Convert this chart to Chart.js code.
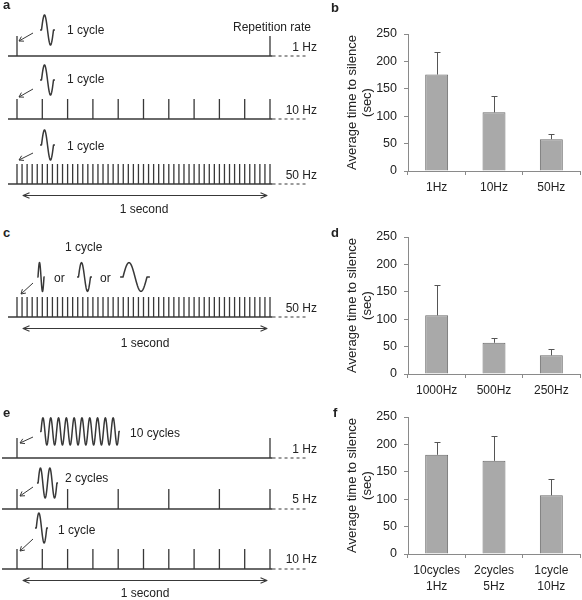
<!DOCTYPE html>
<html>
<head>
<meta charset="utf-8">
<script src="https://cdn.jsdelivr.net/npm/chart.js@4.4.1/dist/chart.umd.min.js"></script>
<style>
  body { margin: 0; background: #fff; }
  #fig { position: relative; width: 582px; height: 600px; overflow: hidden;
         font-family: 'Liberation Sans', Arial, sans-serif; color: #222; }
  #fig canvas { position: absolute; }
  .lbl { position: absolute; font-size: 12px; line-height: 14px; white-space: nowrap; z-index: 2; }
  .pl { font-size: 13px; line-height: 15px; font-weight: bold; }
</style>
</head>
<body>
<div id="fig"></div>
<script>
// ---- bar chart data (b, d, f) ----
const rateLabels = ['1Hz', '10Hz', '50Hz'];
const rateMeans = [176, 107, 58];
const rateErr = [41, 29, 9];

const freqLabels = ['1000Hz', '500Hz', '250Hz'];
const freqMeans = [107, 57, 34];
const freqErr = [56, 9, 11];

const cycleLabels = [['10cycles', '1Hz'], ['2cycles', '5Hz'], ['1cycle', '10Hz']];
const cycleMeans = [181, 170, 107];
const cycleErr = [24, 45, 29];

const yMax = 250, yStep = 50;

// ---- stimulus schematics (a, c, e) ----
const ratesA = [1, 10, 50];
const rateC = 50;
const carrierC = [1000, 500, 250];
const ratesE = [1, 5, 10];
const cyclesE = [10, 2, 1];

Chart.defaults.font.family = "'Liberation Sans', Arial, sans-serif";
Chart.defaults.color = '#222';

const fig = document.getElementById('fig');
const LINE = '#383838';
const AXIS = '#8a8a8a';

// schematic x scale: seconds, t=0 at 17px, 253px per second
const T0 = 17, PX_PER_SEC = 253, ROW_W = 330;
const sec = px => (px - T0) / PX_PER_SEC;

// row layout: baseline pixel, glyph placement in px / pulse-height units
const rows = [
  { base: 56,  start: 8, rate: ratesA[0], waves: [{ cx: 47.5, cy: 1.3,  n: 1, p: 12, a: 0.75 }], arrow: [33, 1.15, 19, 0.75] },
  { base: 119, start: 8, rate: ratesA[1], waves: [{ cx: 47.5, cy: 1.95, n: 1, p: 12, a: 0.75 }], arrow: [33, 1.5, 19, 1.1] },
  { base: 184, start: 8, rate: ratesA[2], waves: [{ cx: 47.5, cy: 1.95, n: 1, p: 12, a: 0.75 }], arrow: [33, 1.55, 19, 1.2], span: true },
  { base: 317, start: 8, rate: rateC, waves: carrierC.map((f, i) => ({ cx: [41, 84.5, 135][i], cy: 2.0, n: 1, p: 6000 / f, a: 0.72 })),
    arrow: [33, 1.7, 21, 1.15], span: true },
  { base: 458, start: 2, rate: ratesE[0], waves: [{ cx: 80,   cy: 1.33, n: cyclesE[0], p: 7.8,  a: 0.68 }], arrow: [33, 1.05, 20, 0.75] },
  { base: 509, start: 2, rate: ratesE[1], waves: [{ cx: 47.5, cy: 1.3,  n: cyclesE[1], p: 9.4,  a: 0.75 }], arrow: [33, 1.1, 20, 0.65] },
  { base: 569, start: 2, rate: ratesE[2], waves: [{ cx: 41.5, cy: 2.05, n: cyclesE[2], p: 10.5, a: 0.75 }], arrow: [33, 1.5, 20, 0.9], span: true }
];

function head(ctx, x1, y1, x2, y2, len, spread) {
  const ang = Math.atan2(y2 - y1, x2 - x1);
  ctx.moveTo(x2 - len * Math.cos(ang - spread), y2 - len * Math.sin(ang - spread));
  ctx.lineTo(x2, y2);
  ctx.lineTo(x2 - len * Math.cos(ang + spread), y2 - len * Math.sin(ang + spread));
}

const glyphs = {
  id: 'glyphs',
  afterDatasetsDraw(chart, args, r) {
    const { ctx, scales: { x, y } } = chart;
    const X = px => x.getPixelForValue(sec(px));
    ctx.save();
    ctx.strokeStyle = LINE;
    ctx.lineJoin = 'round';
    // wavelets
    ctx.lineWidth = 1.5;
    r.waves.forEach(w => {
      const L = w.n * w.p, s = w.cx - L / 2, tail = 0.12 * w.p;
      ctx.beginPath();
      ctx.moveTo(X(s - tail), y.getPixelForValue(w.cy));
      const steps = 40 * w.n;
      for (let i = 0; i <= steps; i++) {
        const u = i / steps * w.n;
        ctx.lineTo(X(s + u * w.p), y.getPixelForValue(w.cy + w.a * Math.sin(2 * Math.PI * u)));
      }
      ctx.lineTo(X(s + L + tail), y.getPixelForValue(w.cy));
      ctx.stroke();
    });
    // pointer arrow to first pulse
    ctx.lineWidth = 1;
    const [ax1, ay1, ax2, ay2] = r.arrow;
    const p1 = [X(ax1), y.getPixelForValue(ay1)], p2 = [X(ax2), y.getPixelForValue(ay2)];
    ctx.beginPath();
    ctx.moveTo(p1[0], p1[1]); ctx.lineTo(p2[0], p2[1]);
    head(ctx, p1[0], p1[1], p2[0], p2[1], 5, 0.55);
    ctx.stroke();
    // "1 second" double arrow
    if (r.span) {
      const yy = Math.round(y.getPixelForValue(-0.55)) + 0.5;
      const xa = x.getPixelForValue(0.024), xb = x.getPixelForValue(0.988);
      ctx.lineWidth = 1.1;
      ctx.beginPath();
      ctx.moveTo(xa, yy); ctx.lineTo(xb, yy);
      head(ctx, xb, yy, xa, yy, 7, 0.4);
      head(ctx, xa, yy, xb, yy, 7, 0.4);
      ctx.stroke();
    }
    ctx.restore();
  }
};

rows.forEach(r => {
  const cv = document.createElement('canvas');
  cv.width = ROW_W; cv.height = 80;
  cv.style.left = '0px';
  cv.style.top = (r.base - 60) + 'px';
  fig.appendChild(cv);
  const pulses = [];
  for (let k = 0; k <= r.rate; k++) {
    const tk = k / r.rate;
    pulses.push({ x: tk, y: 0 }, { x: tk, y: 1 }, { x: tk, y: null });
  }
  new Chart(cv, {
    type: 'line',
    data: {
      datasets: [
        { data: pulses, borderColor: LINE, borderWidth: 1.3 },
        { data: [{ x: sec(r.start), y: 0 }, { x: 1.01, y: 0 }], borderColor: LINE, borderWidth: 1.3 },
        { data: [{ x: 1.01, y: 0 }, { x: sec(306), y: 0 }], borderColor: LINE, borderWidth: 1, borderDash: [3, 3] }
      ]
    },
    options: {
      responsive: false,
      animation: false,
      layout: { padding: 0, autoPadding: false },
      elements: { point: { radius: 0 }, line: { tension: 0, fill: false, borderCapStyle: 'butt' } },
      plugins: { legend: { display: false }, tooltip: { enabled: false }, glyphs: r },
      scales: {
        x: { type: 'linear', display: false, min: sec(0), max: sec(ROW_W) },
        y: { type: 'linear', display: false, min: -1, max: 3 }
      }
    },
    plugins: [glyphs]
  });
});

// ---- bar charts ----
const errorBars = {
  id: 'errorBars',
  afterDatasetsDraw(chart, args, opts) {
    const { ctx, scales: { y } } = chart;
    const vals = chart.data.datasets[0].data;
    ctx.save();
    ctx.strokeStyle = '#555';
    ctx.lineWidth = 1;
    chart.getDatasetMeta(0).data.forEach((bar, i) => {
      const x = Math.round(bar.x) + 0.5;
      const yb = y.getPixelForValue(vals[i]);
      const yt = Math.round(y.getPixelForValue(vals[i] + opts.errors[i])) + 0.5;
      ctx.beginPath();
      ctx.moveTo(x, yb); ctx.lineTo(x, yt);
      ctx.moveTo(x - 3, yt); ctx.lineTo(x + 3, yt);
      ctx.stroke();
    });
    ctx.restore();
  }
};

function barChart(top, labels, means, errs) {
  const cv = document.createElement('canvas');
  cv.width = 282; cv.height = 215;
  cv.style.left = '300px';
  cv.style.top = top + 'px';
  fig.appendChild(cv);
  new Chart(cv, {
    type: 'bar',
    data: {
      labels: labels,
      datasets: [{
        data: means,
        backgroundColor: '#a9a9a9',
        borderColor: '#6a6a6a',
        borderWidth: 1,
        barPercentage: 0.4,
        categoryPercentage: 1
      }]
    },
    options: {
      responsive: false,
      animation: false,
      layout: { padding: { left: 45, top: 34, right: 2, bottom: 0 }, autoPadding: false },
      plugins: { legend: { display: false }, tooltip: { enabled: false }, errorBars: { errors: errs } },
      scales: {
        x: {
          grid: { offset: true, drawOnChartArea: false, tickLength: 4, color: AXIS },
          border: { color: AXIS },
          ticks: { color: '#222', font: { size: 12, lineHeight: 1.35 }, padding: 4.5, maxRotation: 0 },
          afterFit: s => { s.height = 44; }
        },
        y: {
          min: 0, max: yMax,
          grid: { drawOnChartArea: false, tickLength: 4, color: AXIS },
          border: { color: AXIS },
          ticks: { stepSize: yStep, color: '#222', font: { size: 12.5 }, padding: 7 },
          title: { display: true, text: ['Average time to silence', '(sec)'], color: '#222',
                   font: { size: 13, lineHeight: 1.15 }, padding: 0 },
          afterFit: s => { s.width = 63; }
        }
      }
    },
    plugins: [errorBars]
  });
}

barChart(0, rateLabels, rateMeans, rateErr);
barChart(203, freqLabels, freqMeans, freqErr);
barChart(383, cycleLabels, cycleMeans, cycleErr);

// ---- text ----
const texts = [
  { t: 'a', x: 3, y: -3, bold: true }, { t: 'b', x: 331, y: 0, bold: true },
  { t: 'c', x: 3, y: 225, bold: true }, { t: 'd', x: 331, y: 225, bold: true },
  { t: 'e', x: 3, y: 405, bold: true }, { t: 'f', x: 333, y: 405, bold: true },
  { t: '1 cycle', x: 67, y: 23 }, { t: 'Repetition rate', x: 233, y: 20 },
  { t: '1 Hz', r: 317, y: 40 },
  { t: '1 cycle', x: 67, y: 72 }, { t: '10 Hz', r: 317, y: 103 },
  { t: '1 cycle', x: 67, y: 139 }, { t: '50 Hz', r: 317, y: 168 },
  { t: '1 second', c: 144, y: 202 },
  { t: '1 cycle', x: 65, y: 240 }, { t: 'or', x: 54, y: 271 }, { t: 'or', x: 100, y: 271 },
  { t: '50 Hz', r: 317, y: 301 }, { t: '1 second', c: 145, y: 336 },
  { t: '10 cycles', x: 130, y: 426 }, { t: '1 Hz', r: 317, y: 442 },
  { t: '2 cycles', x: 65, y: 471 }, { t: '5 Hz', r: 317, y: 492 },
  { t: '1 cycle', x: 58, y: 523 }, { t: '10 Hz', r: 317, y: 552 },
  { t: '1 second', c: 145, y: 586 }
];
texts.forEach(o => {
  const d = document.createElement('div');
  d.className = 'lbl' + (o.bold ? ' pl' : '');
  d.textContent = o.t;
  d.style.top = o.y + 'px';
  if (o.r !== undefined) d.style.right = (582 - o.r) + 'px';
  else if (o.c !== undefined) { d.style.left = o.c + 'px'; d.style.transform = 'translateX(-50%)'; }
  else d.style.left = o.x + 'px';
  fig.appendChild(d);
});
</script>
</body>
</html>
